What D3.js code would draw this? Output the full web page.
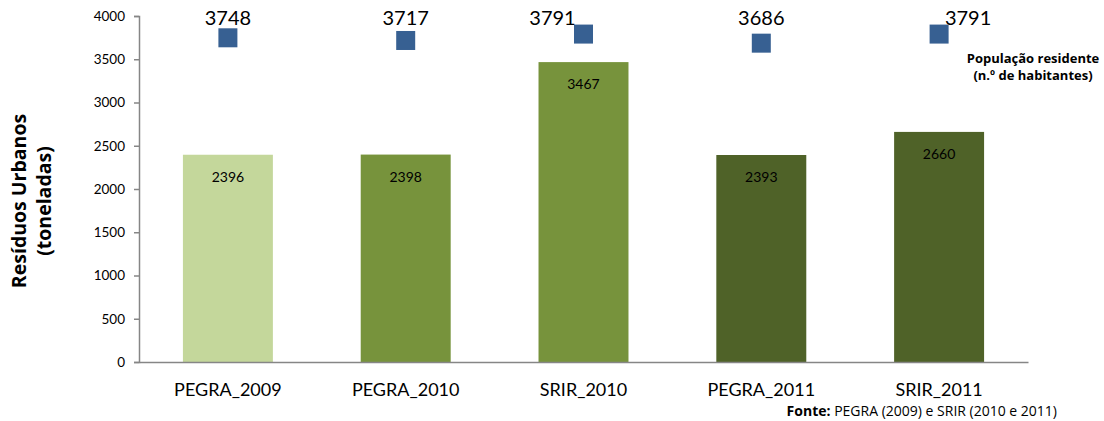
<!DOCTYPE html>
<html>
<head>
<meta charset="utf-8">
<script src="https://cdn.jsdelivr.net/npm/d3@7"></script>
<style>
  body { margin: 0; background: #fff; }
</style>
</head>
<body>
<div id="chart"></div>
<script>
// Data
const categories = ["PEGRA_2009", "PEGRA_2010", "SRIR_2010", "PEGRA_2011", "SRIR_2011"];
const residuos = [2396, 2398, 3467, 2393, 2660];
const populacao = [3748, 3717, 3791, 3686, 3791];
const yTicks = [0, 500, 1000, 1500, 2000, 2500, 3000, 3500, 4000];
const barColors = ["#c4d79b", "#77933c", "#77933c", "#4f6228", "#4f6228"];
// small horizontal nudges of the population labels (as in the original)
const popLabelShift = [0, 0, -31, 0, 29];

const width = 1104;
const height = 421;
const margin = { top: 16, right: 75, bottom: 59, left: 139 };

const svg = d3.select("#chart")
  .append("svg")
  .attr("width", width)
  .attr("height", height)
  .style("font-family", "Lato, sans-serif");

const x = d3.scaleBand()
  .domain(categories)
  .range([margin.left, width - margin.right - 1])
  .paddingInner(0.494)
  .paddingOuter(0.247);

const y = d3.scaleLinear()
  .domain([0, 4000])
  .range([height - margin.bottom, margin.top]);

// bars
svg.append("g")
  .selectAll("rect")
  .data(residuos)
  .join("rect")
    .attr("x", (d, i) => x(categories[i]))
    .attr("y", d => y(d))
    .attr("width", x.bandwidth())
    .attr("height", d => y(0) - y(d))
    .attr("fill", (d, i) => barColors[i]);

// bar value labels
svg.append("g")
  .selectAll("text")
  .data(residuos)
  .join("text")
    .attr("x", (d, i) => x(categories[i]) + x.bandwidth() / 2)
    .attr("y", d => y(d) + 27)
    .attr("text-anchor", "middle")
    .attr("font-size", "14px")
    .attr("fill", "#000")
    .text(d => d);

// population markers
const sq = 19;
svg.append("g")
  .selectAll("rect")
  .data(populacao)
  .join("rect")
    .attr("x", (d, i) => x(categories[i]) + x.bandwidth() / 2 - sq / 2)
    .attr("y", d => y(d) - sq / 2)
    .attr("width", sq)
    .attr("height", sq)
    .attr("fill", "#376092");

// population labels
svg.append("g")
  .selectAll("text")
  .data(populacao)
  .join("text")
    .attr("x", (d, i) => x(categories[i]) + x.bandwidth() / 2 + popLabelShift[i])
    .attr("y", y(4000) + 9)
    .attr("text-anchor", "middle")
    .attr("font-size", "20px")
    .attr("fill", "#000")
    .text(d => d);

// y axis
const yAxis = svg.append("g")
  .attr("transform", `translate(${margin.left},0)`)
  .call(d3.axisLeft(y).tickValues(yTicks).tickSize(5).tickPadding(9).tickFormat(d3.format("d")));
yAxis.selectAll("text").attr("font-size", "13.5px").attr("fill", "#000").attr("font-family", "Lato, sans-serif");
yAxis.selectAll("line, path").attr("stroke", "#868686").attr("stroke-width", 1.5);

// x axis
const xAxis = svg.append("g")
  .attr("transform", `translate(0,${y(0)})`)
  .call(d3.axisBottom(x).tickSize(0).tickPadding(21));
xAxis.selectAll("text").attr("font-size", "18px").attr("fill", "#000").attr("font-family", "Lato, sans-serif");
xAxis.select("path").attr("stroke", "#868686").attr("stroke-width", 1.5);

// y title
const yTitle = svg.append("text")
  .attr("transform", `translate(26,201) rotate(-90)`)
  .attr("text-anchor", "middle")
  .attr("font-family", "'Open Sans', sans-serif")
  .attr("font-size", "19.5px")
  .attr("font-weight", "bold");
yTitle.append("tspan").attr("x", 0).attr("dy", 0).text("Resíduos Urbanos");
yTitle.append("tspan").attr("x", 0).attr("dy", 25).text("(toneladas)");

// legend-like note
const note = svg.append("text")
  .attr("x", 1033)
  .attr("y", 63)
  .attr("text-anchor", "middle")
  .attr("font-family", "'Open Sans', sans-serif")
  .attr("font-size", "13px")
  .attr("font-weight", "bold");
note.append("tspan").attr("x", 1033).text("População residente");
note.append("tspan").attr("x", 1033).attr("dy", 17).text("(n.º de habitantes)");

// source
const src = svg.append("text")
  .attr("x", 1057)
  .attr("y", 416)
  .attr("text-anchor", "end")
  .attr("font-family", "'Open Sans', sans-serif")
  .attr("font-size", "14px");
src.append("tspan").attr("font-weight", "bold").text("Fonte:");
src.append("tspan").text(" PEGRA (2009) e SRIR (2010 e 2011)");
</script>
</body>
</html>
